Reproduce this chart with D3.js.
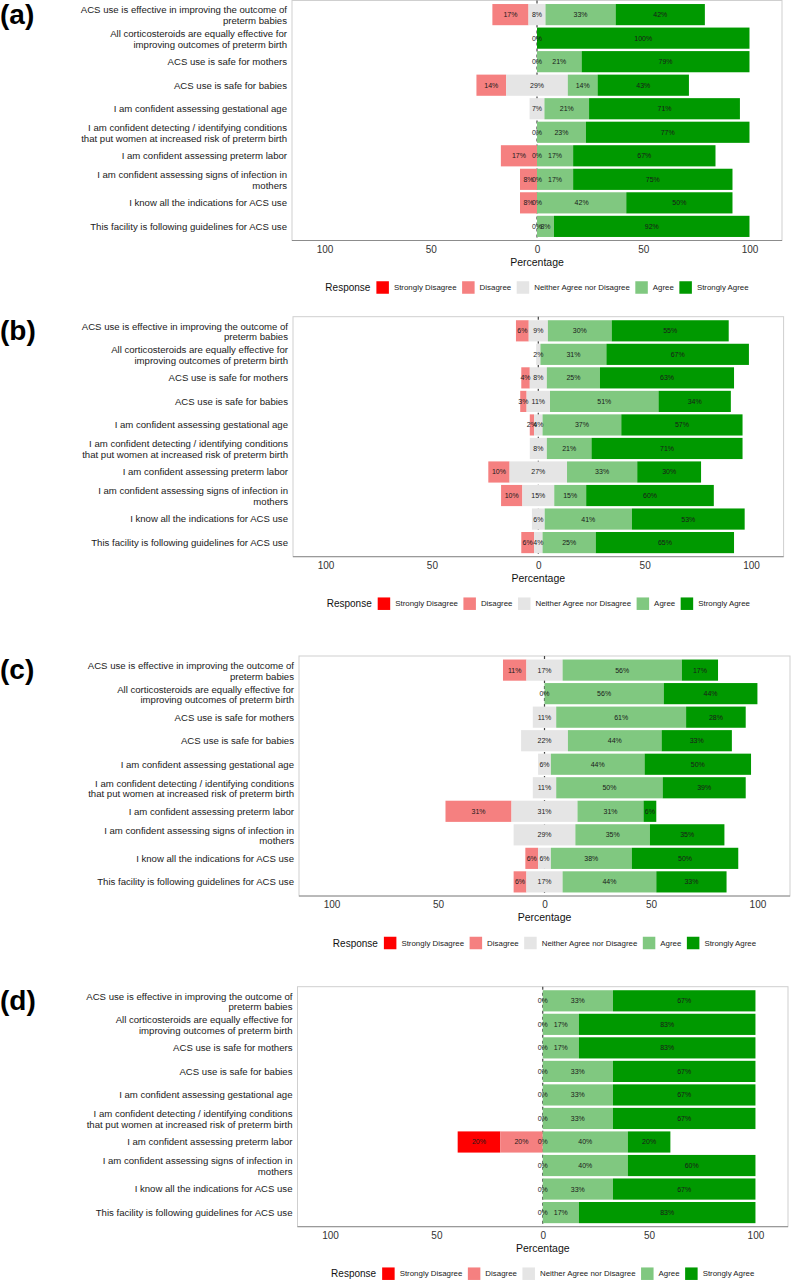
<!DOCTYPE html>
<html>
<head>
<meta charset="utf-8">
<script src="https://cdn.jsdelivr.net/npm/d3@7/dist/d3.min.js"></script>
<style>
  html, body { margin: 0; padding: 0; background: #fff; }
  svg { display: block; font-family: "Liberation Sans", Arial, sans-serif; }
</style>
</head>
<body>
<svg id="chart" width="792" height="1280"></svg>
<script>
// ---------------- DATA ----------------
const categories = [
  "ACS use is effective in improving the outcome of\npreterm babies",
  "All corticosteroids are equally effective for\nimproving outcomes of preterm birth",
  "ACS use is safe for mothers",
  "ACS use is safe for babies",
  "I am confident assessing gestational age",
  "I am confident detecting / identifying conditions\nthat put women at increased risk of preterm birth",
  "I am confident assessing preterm labor",
  "I am confident assessing signs of infection in\nmothers",
  "I know all the indications for ACS use",
  "This facility is following guidelines for ACS use"
];
const levels = ["Strongly Disagree", "Disagree", "Neither Agree nor Disagree", "Agree", "Strongly Agree"];
const levelColors = ["#ff0000", "#f58080", "#e5e5e5", "#80c880", "#009900"];
const panelNames = ["(a)", "(b)", "(c)", "(d)"];
const xTicks = [-100, -50, 0, 50, 100];
const xTitle = "Percentage";
const legendTitle = "Response";

// Panel (a)
const a_SD = [0, 0, 0, 0, 0, 0, 0, 0, 0, 0];
const a_D  = [17, 0, 0, 14, 0, 0, 17, 8, 8, 0];
const a_N  = [8, 0, 0, 29, 7, 0, 0, 0, 0, 0];
const a_A  = [33, 0, 21, 14, 21, 23, 17, 17, 42, 8];
const a_SA = [42, 100, 79, 43, 71, 77, 67, 75, 50, 92];
// Panel (b)
const b_SD = [0, 0, 0, 0, 0, 0, 0, 0, 0, 0];
const b_D  = [6, 0, 4, 3, 2, 0, 10, 10, 0, 6];
const b_N  = [9, 2, 8, 11, 4, 8, 27, 15, 6, 4];
const b_A  = [30, 31, 25, 51, 37, 21, 33, 15, 41, 25];
const b_SA = [55, 67, 63, 34, 57, 71, 30, 60, 53, 65];
// Panel (c)
const c_SD = [0, 0, 0, 0, 0, 0, 0, 0, 0, 0];
const c_D  = [11, 0, 0, 0, 0, 0, 31, 0, 6, 6];
const c_N  = [17, 0, 11, 22, 6, 11, 31, 29, 6, 17];
const c_A  = [56, 56, 61, 44, 44, 50, 31, 35, 38, 44];
const c_SA = [17, 44, 28, 33, 50, 39, 6, 35, 50, 33];
// Panel (d)
const d_SD = [0, 0, 0, 0, 0, 0, 20, 0, 0, 0];
const d_D  = [0, 0, 0, 0, 0, 0, 20, 0, 0, 0];
const d_N  = [0, 0, 0, 0, 0, 0, 0, 0, 0, 0];
const d_A  = [33, 17, 17, 33, 33, 33, 40, 40, 33, 17];
const d_SA = [67, 83, 83, 67, 67, 67, 20, 60, 67, 83];

const panelSeries = [
  [a_SD, a_D, a_N, a_A, a_SA],
  [b_SD, b_D, b_N, b_A, b_SA],
  [c_SD, c_D, c_N, c_A, c_SA],
  [d_SD, d_D, d_N, d_A, d_SA]
];

// ---------------- LAYOUT ----------------
const panelLayout = [
  { top: 0.5,   left: 292,   right: 782 },
  { top: 316.7, left: 293,   right: 783.6 },
  { top: 656,   left: 299,   right: 790 },
  { top: 986.7, left: 297.5, right: 788 }
];
const panelHeight = 240;
const xDomain = [-115.3, 115.3];

const svg = d3.select("#chart");

panelSeries.forEach((series, p) => {
  const L = panelLayout[p];
  const top = L.top, bottom = L.top + panelHeight;
  const g = svg.append("g");

  const x = d3.scaleLinear().domain(xDomain).range([L.left, L.right]);
  // ggplot-like discrete expansion: 0.6 units each side, bar width 0.9
  const y = d3.scaleBand()
    .domain(categories)
    .range([top, bottom])
    .paddingInner(0.1)
    .paddingOuter(0.15);

  // panel border
  g.append("rect")
    .attr("x", L.left).attr("y", top)
    .attr("width", L.right - L.left).attr("height", panelHeight)
    .attr("fill", "none").attr("stroke", "#cfcfcf").attr("stroke-width", 1);

  // zero reference line (behind bars)
  g.append("line")
    .attr("x1", x(0)).attr("x2", x(0))
    .attr("y1", top).attr("y2", bottom)
    .attr("stroke", "#444").attr("stroke-width", 1.2)
    .attr("stroke-dasharray", "3,3");

  // build segments
  const segs = [];
  categories.forEach((cat, i) => {
    const sd = series[0][i], di = series[1][i], ne = series[2][i], ag = series[3][i], sa = series[4][i];
    const h = ne / 2;
    segs.push({ cat, lev: 0, v: sd, x0: -h - di - sd, x1: -h - di });
    segs.push({ cat, lev: 1, v: di, x0: -h - di, x1: -h });
    segs.push({ cat, lev: 2, v: ne, x0: -h, x1: h });
    segs.push({ cat, lev: 3, v: ag, x0: h, x1: h + ag });
    segs.push({ cat, lev: 4, v: sa, x0: h + ag, x1: h + ag + sa });
  });

  g.selectAll("rect.seg").data(segs.filter(s => s.v > 0)).enter()
    .append("rect").attr("class", "seg")
    .attr("x", s => x(s.x0))
    .attr("width", s => x(s.x1) - x(s.x0))
    .attr("y", s => y(s.cat))
    .attr("height", y.bandwidth())
    .attr("fill", s => levelColors[s.lev]);

  g.selectAll("text.pct").data(segs.filter(s => s.v > 0 || s.lev === 2)).enter()
    .append("text").attr("class", "pct")
    .attr("x", s => x((s.x0 + s.x1) / 2))
    .attr("y", s => y(s.cat) + y.bandwidth() / 2)
    .attr("dy", "0.35em")
    .attr("text-anchor", "middle")
    .attr("font-size", "7px")
    .attr("fill", "#1a1a1a")
    .text(s => s.v + "%");

  // bottom axis line
  g.append("line")
    .attr("x1", L.left).attr("x2", L.right)
    .attr("y1", bottom).attr("y2", bottom)
    .attr("stroke", "#8c8c8c").attr("stroke-width", 1);

  // x axis tick labels
  const axis = d3.axisBottom(x).tickValues(xTicks).tickSize(0).tickPadding(5)
    .tickFormat(d => Math.abs(d));
  const ax = g.append("g").attr("transform", `translate(0,${bottom})`).call(axis);
  ax.select(".domain").remove();
  ax.selectAll("text")
    .attr("font-size", "10px")
    .attr("fill", "#333")
    .attr("font-family", "Liberation Sans, Arial, sans-serif");

  // x title
  g.append("text")
    .attr("x", (L.left + L.right) / 2)
    .attr("y", bottom + 21.5)
    .attr("dy", "0.35em")
    .attr("text-anchor", "middle")
    .attr("font-size", "10.5px")
    .attr("fill", "#111")
    .text(xTitle);

  // y labels
  categories.forEach(cat => {
    const lines = cat.split("\n");
    const cy = y(cat) + y.bandwidth() / 2;
    const t = g.append("text")
      .attr("text-anchor", "end")
      .attr("font-size", "9.6px")
      .attr("fill", "#1a1a1a");
    const lh = 10.6;
    const start = cy - (lines.length - 1) * lh / 2 + (lines.length > 1 ? 0.8 : 0);
    lines.forEach((ln, k) => {
      t.append("tspan")
        .attr("x", L.left - 5)
        .attr("y", start + k * lh)
        .attr("dy", "0.35em")
        .text(ln);
    });
  });

  // panel letter
  g.append("text")
    .attr("x", 0)
    .attr("y", top + 23)
    .attr("font-size", "28px")
    .attr("font-weight", "bold")
    .attr("fill", "#000")
    .text(panelNames[p]);

  // legend
  const ly = bottom + 47;
  const lg = g.append("g");
  const title = lg.append("text")
    .attr("x", 0).attr("y", ly).attr("dy", "0.35em")
    .attr("font-size", "10px").attr("fill", "#111")
    .text(legendTitle);
  let cx = title.node().getComputedTextLength() + 6;
  const keyS = 12.5;
  levels.forEach((lev, k) => {
    lg.append("rect")
      .attr("x", cx).attr("y", ly - keyS / 2)
      .attr("width", keyS).attr("height", keyS)
      .attr("fill", levelColors[k]);
    cx += keyS + 5;
    const tt = lg.append("text")
      .attr("x", cx).attr("y", ly).attr("dy", "0.35em")
      .attr("font-size", "7.9px").attr("fill", "#222")
      .text(lev);
    cx += tt.node().getComputedTextLength() + (k < levels.length - 1 ? 5.5 : 0);
  });
  const center = (L.left + L.right) / 2;
  lg.attr("transform", `translate(${center - cx / 2},0)`);
});
</script>
</body>
</html>
